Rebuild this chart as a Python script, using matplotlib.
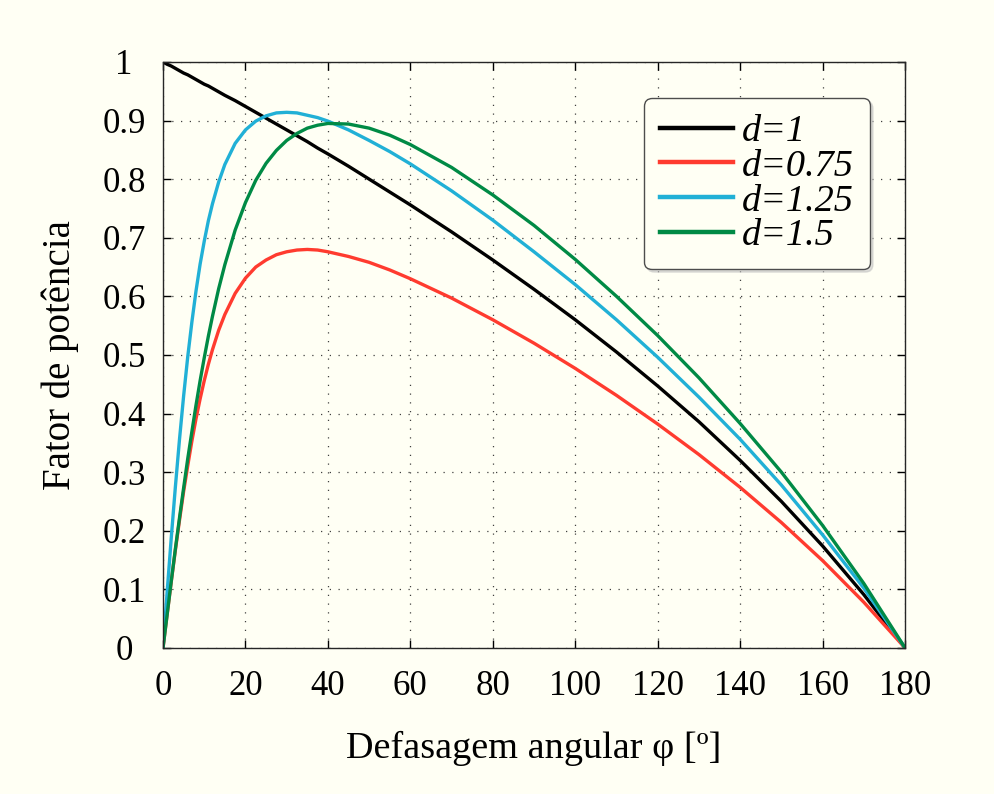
import matplotlib
matplotlib.use("Agg")
import matplotlib.pyplot as plt

# phase shift angle [deg] and power factor
angle = [0, 1, 2, 3, 4, 5, 6, 7, 8, 9, 10, 11, 12,
         13.5, 15, 17.5, 20, 22.5, 25, 27.5, 30, 32.5, 35, 37.5, 40,
         45, 50, 55, 60,
         70, 80, 90, 100, 110, 120, 130, 140, 150, 160, 170, 180]

pf_d100 = [1.0, 0.996, 0.993, 0.989, 0.985, 0.981, 0.978, 0.974, 0.970, 0.966, 0.962, 0.959, 0.955,
           0.949, 0.943, 0.934, 0.924, 0.914, 0.904, 0.894, 0.884, 0.874, 0.864, 0.853, 0.843,
           0.822, 0.800, 0.778, 0.756,
           0.710, 0.662, 0.612, 0.560, 0.505, 0.447, 0.386, 0.320, 0.250, 0.174, 0.091, 0.0]
pf_d075 = [0.0, 0.057, 0.113, 0.167, 0.218, 0.267, 0.311, 0.353, 0.391, 0.425, 0.456, 0.484, 0.509,
           0.542, 0.569, 0.605, 0.631, 0.650, 0.662, 0.671, 0.676, 0.679, 0.680, 0.679, 0.676,
           0.668, 0.658, 0.645, 0.630,
           0.597, 0.560, 0.520, 0.477, 0.431, 0.382, 0.330, 0.274, 0.214, 0.149, 0.078, 0.0]
pf_d125 = [0.0, 0.095, 0.188, 0.275, 0.356, 0.430, 0.497, 0.556, 0.609, 0.655, 0.694, 0.729, 0.758,
           0.795, 0.825, 0.861, 0.884, 0.899, 0.908, 0.913, 0.914, 0.913, 0.909, 0.905, 0.899,
           0.884, 0.866, 0.847, 0.826,
           0.780, 0.730, 0.676, 0.620, 0.560, 0.496, 0.428, 0.356, 0.278, 0.193, 0.102, 0.0]
pf_d150 = [0.0, 0.057, 0.114, 0.169, 0.222, 0.273, 0.323, 0.369, 0.414, 0.456, 0.495, 0.532, 0.566,
           0.613, 0.654, 0.713, 0.760, 0.798, 0.827, 0.849, 0.866, 0.878, 0.887, 0.892, 0.895,
           0.894, 0.887, 0.875, 0.859,
           0.820, 0.773, 0.721, 0.663, 0.600, 0.533, 0.461, 0.383, 0.300, 0.209, 0.110, 0.0]

series = [("d=1", pf_d100, "#000000"),
          ("d=0.75", pf_d075, "#ff3b2f"),
          ("d=1.25", pf_d125, "#21b0d6"),
          ("d=1.5", pf_d150, "#008a45")]

xticks = [0, 20, 40, 60, 80, 100, 120, 140, 160, 180]
yticks = [0, 0.1, 0.2, 0.3, 0.4, 0.5, 0.6, 0.7, 0.8, 0.9, 1.0]
ytick_labels = ["0", "0.1", "0.2", "0.3", "0.4", "0.5", "0.6", "0.7", "0.8", "0.9", "1"]

bg = "#fffff4"
plt.rcParams["font.family"] = ["Liberation Serif", "DejaVu Serif"]

fig = plt.figure(figsize=(9.94, 7.94), dpi=100, facecolor=bg)
ax = fig.add_axes([0.164, 0.184, 0.7465, 0.738], facecolor=bg)

for label, vals, col in series:
    ax.plot(angle, vals, color=col, linewidth=2.4, label=label)

ax.set_xlim(0, 180)
ax.set_ylim(0, 1)
ax.set_xticks(xticks)
ax.set_xticklabels([str(t) for t in xticks])
ax.set_yticks(yticks)
ax.set_yticklabels(ytick_labels)
ax.tick_params(direction="in", top=True, right=True, length=6, width=1,
               labelsize=25)
ax.tick_params(axis="x", pad=16)
ax.tick_params(axis="y", pad=28)
for lbl in ax.get_yticklabels():
    lbl.set_horizontalalignment("center")
ax.grid(True, color="0.25", linestyle=(0, (1, 6)), linewidth=0.9)
for s in ax.spines.values():
    s.set_linewidth(1.0)
    s.set_color("0.15")

ax.set_xlabel("Defasagem angular φ [º]", fontsize=27.5, labelpad=20)
ax.set_ylabel("Fator de potência", fontsize=28, labelpad=17)

leg = ax.legend(loc="upper right", bbox_to_anchor=(0.953, 0.938), borderaxespad=0,
                prop={"style": "italic", "size": 27.5},
                handlelength=1.9, handletextpad=0.25, labelspacing=0.0,
                borderpad=0.42, fancybox=True, framealpha=1,
                shadow={"color": "0.75", "alpha": 0.5})
leg.get_frame().set_facecolor(bg)
leg.get_frame().set_edgecolor("0.3")
leg.get_frame().set_linewidth(1.0)
for line in leg.get_lines():
    line.set_linewidth(3.2)

fig.savefig("out.png", dpi=100, facecolor=bg)
